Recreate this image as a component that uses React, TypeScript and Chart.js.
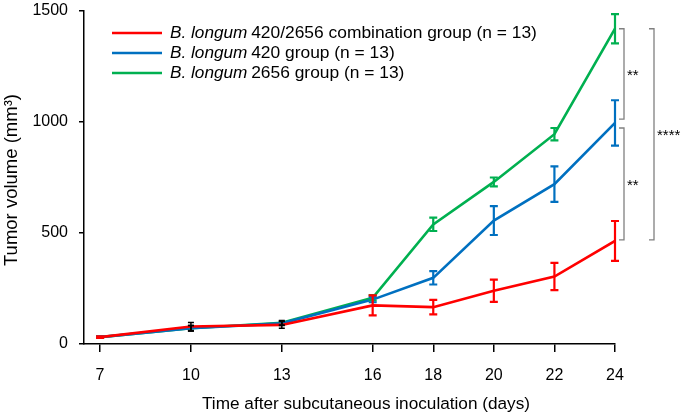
import React, { useEffect, useRef } from "react";
import { Chart, registerables } from "chart.js";

Chart.register(...registerables);

// ---- data ----
const days = [7, 10, 13, 16, 18, 20, 22, 24];
const comboValues = [31, 79, 86, 174, 166, 240, 304, 464];
const comboErrors = [4, 18, 15, 45, 33, 50, 61, 90];
const b420Values = [31, 71, 93, 200, 298, 556, 720, 996];
const b420Errors = [3, 12, 10, 12, 30, 65, 80, 102];
const b2656Values = [31, 71, 96, 208, 539, 730, 945, 1420];
const b2656Errors = [3, 12, 10, 12, 30, 20, 28, 66];
const blackErrorDays = [10, 13];
const yTicks = [0, 500, 1000, 1500];
const speciesName = "B. longum";
const seriesLabels = [
  "420/2656 combination group (n = 13)",
  "420 group (n = 13)",
  "2656 group (n = 13)",
];
const xTitle = "Time after subcutaneous inoculation (days)";
const yTitle = "Tumor volume (mm³)";
// significance brackets
const bracketFrom = [1420, 973, 1420];
const bracketTo = [1013, 469, 469];
const bracketText = ["**", "**", "****"];
const bracketLevel = [0, 0, 1];

const colors = ["#ff0000", "#0070c0", "#00b050"];
const FONT = "'Liberation Sans', Arial, sans-serif";

const seriesValues = [comboValues, b420Values, b2656Values];
const seriesErrors = [comboErrors, b420Errors, b2656Errors];

const overlayPlugin = {
  id: "overlay",
  afterDatasetsDraw(chart: any) {
    const { ctx, scales } = chart;
    const xs = scales.x;
    const ys = scales.y;
    ctx.save();
    for (let s = seriesValues.length - 1; s >= 0; s--) {
      const vals = seriesValues[s];
      const errs = seriesErrors[s];
      for (let i = 0; i < days.length; i++) {
        const x = xs.getPixelForValue(days[i]);
        const yTop = ys.getPixelForValue(vals[i] + errs[i]);
        const yBot = ys.getPixelForValue(vals[i] - errs[i]);
        const black = blackErrorDays.includes(days[i]);
        ctx.strokeStyle = black ? "#000" : colors[s];
        ctx.lineWidth = black ? 1.5 : 2.2;
        const cap = black ? 3 : 4;
        ctx.beginPath();
        ctx.moveTo(x, yTop);
        ctx.lineTo(x, yBot);
        ctx.moveTo(x - cap, yTop);
        ctx.lineTo(x + cap, yTop);
        ctx.moveTo(x - cap, yBot);
        ctx.lineTo(x + cap, yBot);
        ctx.stroke();
      }
    }
    ctx.restore();
  },
  afterDraw(chart: any) {
    const { ctx, scales, chartArea } = chart;
    const ys = scales.y;
    ctx.save();
    // brackets
    for (let b = 0; b < bracketFrom.length; b++) {
      const base = chartArea.right + (bracketLevel[b] === 0 ? 9 : 39);
      const y1 = ys.getPixelForValue(bracketFrom[b]);
      const y2 = ys.getPixelForValue(bracketTo[b]);
      ctx.strokeStyle = "#808080";
      ctx.lineWidth = 1.3;
      ctx.beginPath();
      ctx.moveTo(base - 5, y1);
      ctx.lineTo(base, y1);
      ctx.lineTo(base, y2);
      ctx.lineTo(base - 5, y2);
      ctx.stroke();
      ctx.fillStyle = "#000";
      ctx.font = `15px ${FONT}`;
      ctx.textAlign = "left";
      ctx.textBaseline = "middle";
      ctx.fillText(bracketText[b], base + 3, (y1 + y2) / 2 + 2);
    }
    // legend
    const lx = 112;
    for (let s = 0; s < seriesLabels.length; s++) {
      const y = 33 + s * 20;
      ctx.strokeStyle = colors[s];
      ctx.lineWidth = 2.5;
      ctx.beginPath();
      ctx.moveTo(lx, y);
      ctx.lineTo(lx + 50, y);
      ctx.stroke();
      ctx.fillStyle = "#000";
      ctx.textAlign = "left";
      ctx.textBaseline = "middle";
      ctx.font = `italic 17.2px ${FONT}`;
      ctx.fillText(speciesName, lx + 58, y);
      const w = ctx.measureText(speciesName + " ").width;
      ctx.font = `17.4px ${FONT}`;
      ctx.fillText(seriesLabels[s], lx + 58 + w - 1, y);
    }
    // axis titles
    ctx.fillStyle = "#000";
    ctx.textAlign = "center";
    ctx.textBaseline = "middle";
    ctx.font = `17.2px ${FONT}`;
    ctx.fillText(xTitle, 366, 404);
    ctx.save();
    ctx.translate(12, 180);
    ctx.rotate(-Math.PI / 2);
    ctx.font = `18.5px ${FONT}`;
    ctx.fillText(yTitle, 0, 0);
    ctx.restore();
    ctx.restore();
  },
};

export default function App() {
  const ref = useRef<HTMLCanvasElement>(null);
  useEffect(() => {
    const chart = new Chart(ref.current!, {
      type: "line",
      data: {
        datasets: seriesValues.map((vals, s) => ({
          label: speciesName + " " + seriesLabels[s],
          data: days.map((d, i) => ({ x: d, y: vals[i] })),
          borderColor: colors[s],
          backgroundColor: colors[s],
          borderWidth: 2.6,
          pointRadius: 0,
          tension: 0,
        })),
      },
      options: {
        responsive: false,
        animation: false,
        layout: { padding: { top: 11, right: 70, left: 0, bottom: 0 } },
        plugins: { legend: { display: false }, tooltip: { enabled: false } },
        scales: {
          x: {
            type: "linear",
            min: 6.47,
            max: 24,
            afterBuildTicks: (s: any) => {
              s.ticks = days.map((v) => ({ value: v }));
            },
            afterFit: (s: any) => {
              s.height = 71;
            },
            grid: {
              display: true,
              drawOnChartArea: false,
              drawTicks: true,
              tickLength: 8,
              color: "#000",
              lineWidth: 1.5,
            },
            border: { display: true, color: "#000", width: 1.5 },
            ticks: {
              color: "#000",
              font: { family: FONT, size: 16 },
              padding: 14,
              maxRotation: 0,
              autoSkip: false,
              callback: (v: any) => String(v),
            },
            title: { display: false },
          },
          y: {
            min: 0,
            max: 1500,
            afterBuildTicks: (s: any) => {
              s.ticks = yTicks.map((v) => ({ value: v }));
            },
            afterFit: (s: any) => {
              s.width = 84;
              s.paddingTop = 0;
              s.paddingBottom = 0;
            },
            grid: {
              display: true,
              drawOnChartArea: false,
              drawTicks: true,
              tickLength: 5,
              color: "#000",
              lineWidth: 1.5,
            },
            border: { display: true, color: "#000", width: 1.5 },
            ticks: {
              color: "#000",
              font: { family: FONT, size: 16, lineHeight: 1 },
              padding: 11,
              callback: (v: any) => String(v),
            },
            title: { display: false },
          },
        },
      },
      plugins: [overlayPlugin],
    } as any);
    return () => chart.destroy();
  }, []);
  return (
    <div style={{ position: "absolute", left: 0, top: 0, width: 685, height: 415, background: "#fff" }}>
      <canvas ref={ref} width={685} height={415} style={{ display: "block" }} />
    </div>
  );
}
